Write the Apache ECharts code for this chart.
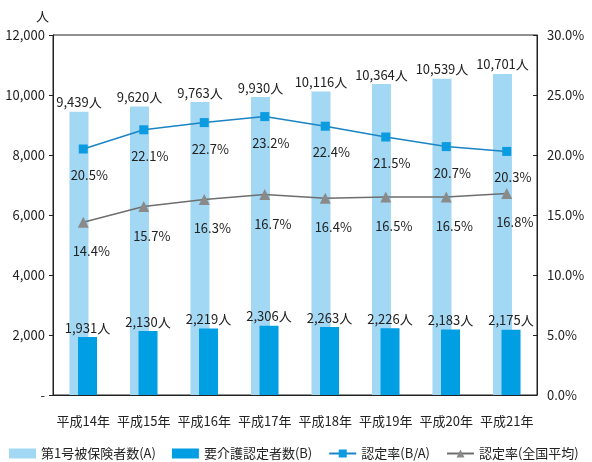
<!DOCTYPE html>
<html>
<head>
<meta charset="utf-8">
<script src="https://cdn.jsdelivr.net/npm/echarts@6/dist/echarts.min.js"></script>
<style>
  html, body { margin: 0; padding: 0; background: #fff; }
  #main { width: 592px; height: 462px; }
</style>
</head>
<body>
<div id="main"></div>
<script>
// 年度
const years = ["平成14年", "平成15年", "平成16年", "平成17年", "平成18年", "平成19年", "平成20年", "平成21年"];
// 第1号被保険者数(A)
const insured = [9439, 9620, 9763, 9930, 10116, 10364, 10539, 10701];
// 要介護認定者数(B)
const certified = [1931, 2130, 2219, 2306, 2263, 2226, 2183, 2175];
// 認定率(B/A)
const rate = [20.5, 22.1, 22.7, 23.2, 22.4, 21.5, 20.7, 20.3];
// 認定率(全国平均)
const rateNational = [14.4, 15.7, 16.3, 16.7, 16.4, 16.5, 16.5, 16.8];

const font = "'Noto Sans CJK JP', sans-serif";
const fmt = v => v.toLocaleString("en-US");

let myChart = echarts.init(document.getElementById("main"));
let option = {
  animation: false,
  textStyle: { fontFamily: font, color: "#222" },
  grid: {
    left: 53,
    right: 55,
    top: 35,
    bottom: 67,
    show: true,
    borderColor: "#222",
    borderWidth: 1
  },
  legend: {
    bottom: 2,
    left: 9,
    right: 0,
    padding: 0,
    itemWidth: 27,
    itemHeight: 10,
    itemGap: 16,
    textStyle: { fontFamily: font, fontSize: 13, color: "#222" },
    data: [
      { name: "第1号被保険者数(A)", icon: "rect" },
      { name: "要介護認定者数(B)", icon: "rect" },
      "認定率(B/A)",
      "認定率(全国平均)"
    ]
  },
  xAxis: {
    type: "category",
    data: years,
    axisLine: { lineStyle: { color: "#222" } },
    axisTick: { inside: true, length: 5, lineStyle: { color: "#222" } },
    axisLabel: { interval: 0, fontSize: 13, color: "#222", margin: 20 }
  },
  yAxis: [
    {
      type: "value",
      min: 0,
      max: 12000,
      interval: 2000,
      name: "人",
      nameGap: 12,
      nameTextStyle: { fontSize: 13, color: "#222", align: "right", padding: [0, 4, 0, 0] },
      axisLine: { show: true, lineStyle: { color: "#222" } },
      axisTick: { show: true, length: 4, lineStyle: { color: "#222" } },
      splitLine: { show: false },
      axisLabel: {
        fontSize: 13,
        color: "#222",
        margin: 8,
        formatter: v => (v === 0 ? "-" : fmt(v))
      }
    },
    {
      type: "value",
      min: 0,
      max: 30,
      interval: 5,
      axisLine: { show: true, lineStyle: { color: "#222" } },
      axisTick: { show: true, inside: true, length: 4, lineStyle: { color: "#222" } },
      splitLine: { show: false },
      axisLabel: {
        fontSize: 13,
        color: "#222",
        margin: 10,
        formatter: v => v.toFixed(1) + "%"
      }
    }
  ],
  series: [
    {
      name: "第1号被保険者数(A)",
      type: "bar",
      data: insured,
      barWidth: 19,
      barGap: "-55%",
      itemStyle: { color: "#a3d8f4" },
      label: {
        show: true,
        position: "top",
        distance: 3,
        fontSize: 13,
        color: "#222",
        formatter: p => fmt(p.value) + "人"
      }
    },
    {
      name: "要介護認定者数(B)",
      type: "bar",
      data: certified,
      barWidth: 19,
      itemStyle: { color: "#009fe3" },
      label: {
        show: true,
        position: "top",
        distance: 3,
        fontSize: 13,
        color: "#222",
        formatter: p => fmt(p.value) + "人"
      }
    },
    {
      name: "認定率(B/A)",
      type: "line",
      yAxisIndex: 1,
      data: rate,
      symbol: "rect",
      symbolSize: 9,
      lineStyle: { color: "#1a84c4", width: 1.5 },
      itemStyle: { color: "#0a9be0" },
      label: {
        show: true,
        position: "bottom",
        distance: 15,
        offset: [6, 0],
        fontSize: 13,
        color: "#222",
        formatter: p => p.value.toFixed(1) + "%"
      }
    },
    {
      name: "認定率(全国平均)",
      type: "line",
      yAxisIndex: 1,
      data: rateNational,
      symbol: "triangle",
      symbolSize: 11,
      lineStyle: { color: "#6e6e6e", width: 1.5 },
      itemStyle: { color: "#8a8a8a" },
      label: {
        show: true,
        position: "bottom",
        distance: 17,
        offset: [8, 0],
        fontSize: 13,
        color: "#222",
        formatter: p => p.value.toFixed(1) + "%"
      }
    }
  ]
};
myChart.setOption(option);
</script>
</body>
</html>
